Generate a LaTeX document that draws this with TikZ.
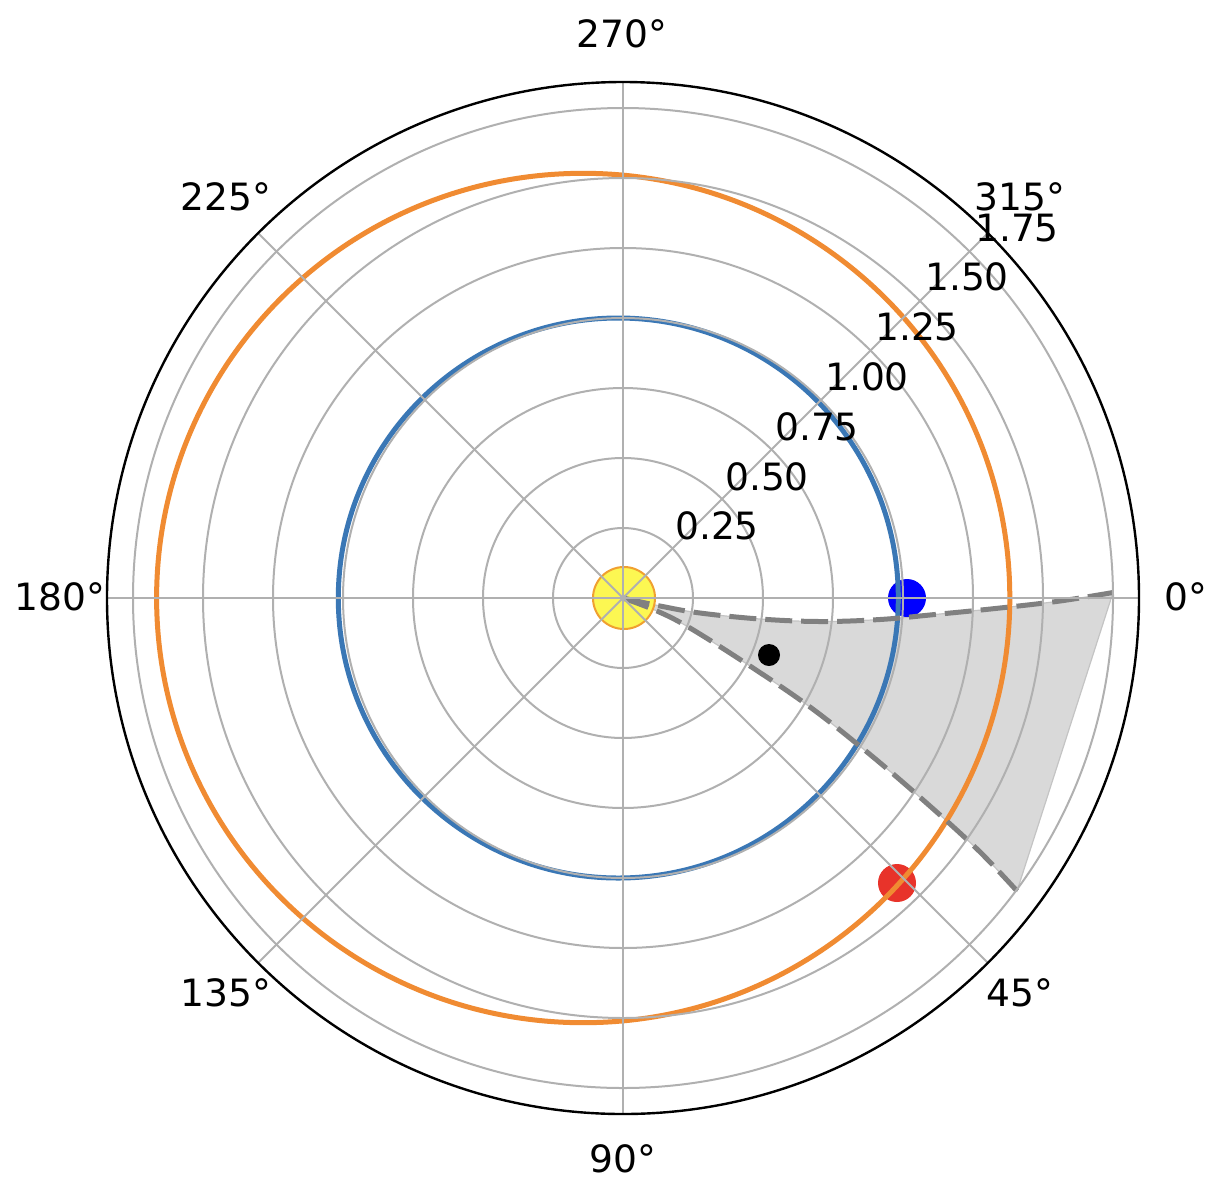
\documentclass[tikz,border=0pt]{standalone}
\usepackage{fontspec}
\setmainfont{DejaVu Sans}
\definecolor{gridc}{HTML}{B0B0B0}
\definecolor{earthc}{HTML}{3A77B5}
\definecolor{marsc}{HTML}{F08B32}
\definecolor{dashc}{HTML}{808080}
\definecolor{wedgec}{HTML}{D9D9D9}
\definecolor{wedgeedge}{HTML}{C4C4C4}
\definecolor{sunfill}{HTML}{FCF752}
\definecolor{sunedge}{HTML}{F0A030}
\definecolor{redc}{HTML}{E8332A}
\begin{document}
\begin{tikzpicture}[x=0.5pt,y=-0.5pt,
  lab/.style={font=\fontsize{18.8}{22}\selectfont, inner sep=0pt, anchor=center},
  gridline/.style={draw=gridc, line width=1pt},
  orbit/.style={line width=2.5pt},
  traj/.style={draw=dashc, line width=2.5pt, dash pattern=on 13.5pt off 4.5pt}]
\useasboundingbox (0,0) rectangle (1210,1184);
\fill[white] (0,0) rectangle (1210,1184);
\coordinate (O) at (623,598);

% shaded wedge
\filldraw[fill=wedgec, draw=wedgeedge, line width=0.6pt]
  plot[smooth, tension=0.6] coordinates {(623,598) (660,606) (700,613) (760,619) (820,621.5) (880,619.5) (940,614) (1000,608) (1060,601) (1113,592.5)}
  -- plot[smooth, tension=0.6] coordinates {(1017,891) (977,849) (922,799) (867,752) (810,707) (750,666) (690,628) (657,611) (623,598)}
  -- cycle;

% bodies
\node[circle, fill=sunfill, draw=sunedge, line width=1pt, minimum size=31pt, inner sep=0pt] (sun) at (624,598) {};
\node[circle, fill=blue, minimum size=19pt, inner sep=0pt] (earth) at (907,598) {};
\node[circle, fill=redc, minimum size=19pt, inner sep=0pt] (mars) at (897,883) {};
\node[circle, fill=black, minimum size=11pt, inner sep=0pt] (probe) at (769,655) {};

% orbits
\draw[orbit, earthc] (618.3,598) ellipse [x radius=140pt, y radius=140pt];
\draw[orbit, marsc] (583.2,598) ellipse [x radius=213.3pt, y radius=212.35pt];

% trajectories
\draw[traj] plot[smooth, tension=0.6] coordinates {(623,598) (660,606) (700,613) (760,619) (820,621.5) (880,619.5) (940,614) (1000,608) (1060,601) (1113,592.5)};
\draw[traj] plot[smooth, tension=0.6] coordinates {(623,598) (657,611) (690,628) (750,666) (810,707) (867,752) (922,799) (977,849) (1017,891)};

% grid
\foreach \r in {35,70,105,140,175,210,245} {
  \draw[gridline] (O) circle [radius=\r pt];
}
\foreach \a in {0,45,...,315} {
  \draw[gridline] (O) -- ++(\a:516);
}
\draw[black, line width=1.2pt] (O) circle [radius=258pt];

% angle labels
\node[lab] (l0) at (1186,597) {0°};
\node[lab] (l45) at (1020,993) {45°};
\node[lab] (l90) at (623,1159) {90°};
\node[lab] (l135) at (226,993) {135°};
\node[lab] (l180) at (60,597) {180°};
\node[lab] (l225) at (226,197) {225°};
\node[lab] (l270) at (622,34) {270°};
\node[lab] (l315) at (1020,197) {315°};

% radial labels
\node[lab] (r1) at (717,526) {0.25};
\node[lab] (r2) at (767,477) {0.50};
\node[lab] (r3) at (817,427) {0.75};
\node[lab] (r4) at (867,377) {1.00};
\node[lab] (r5) at (917,327) {1.25};
\node[lab] (r6) at (967,277) {1.50};
\node[lab] (r7) at (1017,228) {1.75};
\end{tikzpicture}
\end{document}
